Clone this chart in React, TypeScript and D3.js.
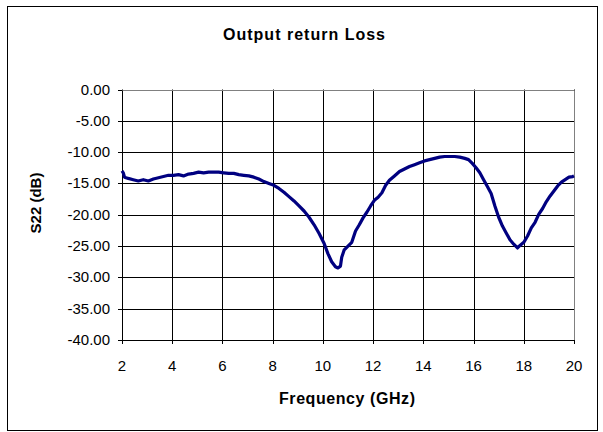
import React from "react";
import * as d3 from "d3";

const freqGHz = [
  2.0, 2.05, 2.1, 2.25, 2.45, 2.65, 2.85, 3.05, 3.25, 3.45, 3.65, 3.85, 4.05, 4.25, 4.45, 4.65, 4.85,
  5.05, 5.25, 5.45, 5.65, 5.85, 6.05, 6.25, 6.45, 6.65, 6.85, 7.05, 7.25, 7.45, 7.65, 7.85, 8.05,
  8.25, 8.45, 8.65, 8.85, 9.05, 9.25, 9.45, 9.65, 9.85, 10.05, 10.2, 10.35, 10.5, 10.6, 10.7, 10.75,
  10.85, 11.0, 11.15, 11.3, 11.45, 11.6, 11.75, 11.9, 12.05, 12.2, 12.35, 12.5, 12.65, 12.85, 13.05,
  13.25, 13.45, 13.65, 13.85, 14.05, 14.25, 14.45, 14.65, 14.85, 15.05, 15.25, 15.45, 15.65, 15.8,
  15.95, 16.1, 16.25, 16.4, 16.55, 16.7, 16.85, 17.0, 17.15, 17.3, 17.45, 17.6, 17.75, 17.85, 18.0,
  18.15, 18.3, 18.45, 18.6, 18.75, 18.9, 19.05, 19.2, 19.35, 19.5, 19.65, 19.8, 19.95, 20.0,
];

const s22dB = [
  -13.0, -13.3, -14.0, -14.2, -14.4, -14.6, -14.4, -14.6, -14.3, -14.1, -13.9, -13.7, -13.7, -13.6,
  -13.8, -13.5, -13.4, -13.2, -13.3, -13.2, -13.2, -13.2, -13.3, -13.4, -13.4, -13.6, -13.7, -13.8,
  -14.0, -14.3, -14.7, -15.0, -15.3, -15.8, -16.4, -17.1, -17.8, -18.6, -19.4, -20.4, -21.6, -23.0,
  -24.6, -26.2, -27.5, -28.3, -28.5, -28.2, -26.8, -25.6, -25.0, -24.4, -22.6, -21.6, -20.5, -19.6,
  -18.6, -17.7, -17.2, -16.5, -15.3, -14.5, -13.8, -13.1, -12.7, -12.3, -12.0, -11.7, -11.4, -11.2,
  -11.0, -10.8, -10.7, -10.7, -10.7, -10.8, -11.0, -11.2, -11.8, -12.5, -13.3, -14.4, -15.5, -16.6,
  -18.6, -20.4, -21.8, -22.9, -24.0, -24.7, -25.3, -24.9, -24.4, -23.4, -22.1, -21.2, -19.9, -19.0,
  -17.9, -17.0, -16.2, -15.4, -14.8, -14.4, -14.0, -13.9, -13.8,
];

const xTicks = [2, 4, 6, 8, 10, 12, 14, 16, 18, 20];
const yTicks = [0, -5, -10, -15, -20, -25, -30, -35, -40];

const title = "Output return Loss";
const xLabel = "Frequency (GHz)";
const yLabel = "S22 (dB)";

export default function App() {
  const W = 603;
  const H = 432;
  const left = 122;
  const right = 574;
  const top = 89.5;
  const bottom = 340;
  const font = "'Liberation Sans', Arial, sans-serif";

  const x = d3.scaleLinear().domain([2, 20]).range([left, right]);
  const y = d3.scaleLinear().domain([-40, 0]).range([bottom, top]);
  const pts = freqGHz.map((f, i) => [f, s22dB[i]] as [number, number]);
  const line = d3
    .line<[number, number]>()
    .x((d) => x(d[0]))
    .y((d) => y(d[1]));

  const px = (v: number) => Math.round(v) + 0.5;

  return (
    <svg
      width={W}
      height={H}
      style={{ position: "absolute", left: 0, top: 0, background: "#fff" }}
      fontFamily={font}
    >
      <rect x={7.5} y={6.5} width={590} height={424} fill="#fff" stroke="#000" strokeWidth={1} />
      <text x={304} y={40} textAnchor="middle" fontSize={16} fontWeight="bold" textLength={162} lengthAdjust="spacing">
        {title}
      </text>
      {yTicks.map((t) => (
        <line key={"h" + t} x1={left} x2={right} y1={px(y(t))} y2={px(y(t))} stroke="#000" strokeWidth={1} />
      ))}
      {xTicks.map((t) => (
        <line key={"v" + t} x1={px(x(t))} x2={px(x(t))} y1={top} y2={bottom} stroke="#000" strokeWidth={1} />
      ))}
      <line x1={left} x2={px(right)} y1={px(top)} y2={px(top)} stroke="#808080" strokeWidth={1} />
      <line x1={px(right)} x2={px(right)} y1={px(top)} y2={bottom} stroke="#808080" strokeWidth={1} />
      <line x1={px(left)} x2={px(left)} y1={px(top)} y2={px(bottom)} stroke="#000" />
      <line x1={px(left)} x2={px(right)} y1={px(bottom)} y2={px(bottom)} stroke="#000" />
      {yTicks.map((t) => (
        <g key={"yt" + t}>
          <line x1={left - 4} x2={left} y1={px(y(t))} y2={px(y(t))} stroke="#000" />
          <text x={110} y={y(t) + 5} textAnchor="end" fontSize={15}>
            {t.toFixed(2)}
          </text>
        </g>
      ))}
      {xTicks.map((t) => (
        <g key={"xt" + t}>
          <line x1={px(x(t))} x2={px(x(t))} y1={bottom} y2={bottom + 4} stroke="#000" />
          <text x={x(t)} y={371} textAnchor="middle" fontSize={15}>
            {t}
          </text>
        </g>
      ))}
      <text x={347} y={404} textAnchor="middle" fontSize={16} fontWeight="bold" textLength={136} lengthAdjust="spacing">
        {xLabel}
      </text>
      <text
        transform={`translate(41,203) rotate(-90)`}
        textAnchor="middle"
        fontSize={15}
        fontWeight="bold"
      >
        {yLabel}
      </text>
      <path d={line(pts) ?? ""} fill="none" stroke="#000080" strokeWidth={3.2} strokeLinejoin="round" />
    </svg>
  );
}
